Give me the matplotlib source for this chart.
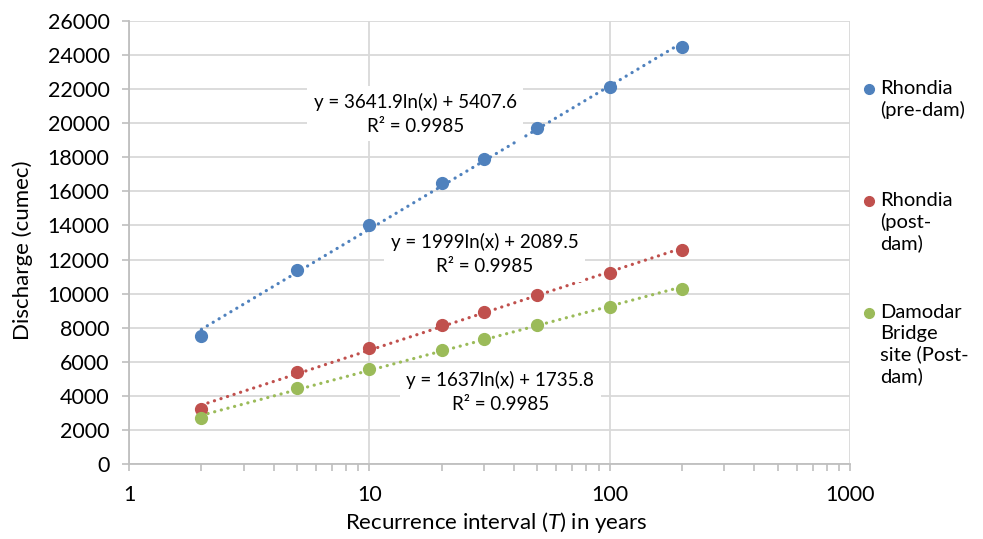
import numpy as np
import matplotlib
matplotlib.use("Agg")
import matplotlib.pyplot as plt
from matplotlib.lines import Line2D
from matplotlib.ticker import FuncFormatter, NullFormatter, LogLocator, MultipleLocator

plt.rcParams['font.family'] = ['Lato', 'DejaVu Sans']
plt.rcParams['mathtext.fontset'] = 'custom'
plt.rcParams['mathtext.it'] = 'Lato:italic'
plt.rcParams['mathtext.rm'] = 'Lato'

# Données
T = [2, 5, 10, 20, 30, 50, 100, 200]
pre_dam = [7500, 11400, 14000, 16500, 17900, 19700, 22100, 24500]
post_dam = [3230, 5400, 6800, 8150, 8920, 9920, 11230, 12560]
damodar = [2680, 4440, 5580, 6700, 7340, 8150, 9230, 10300]

names = ["Rhondia\n(pre-dam)", "Rhondia\n(post-\ndam)", "Damodar\nBridge\nsite (Post-\ndam)"]
colors = ["#4f81bd", "#c0504d", "#9bbb59"]
equations = ["y = 3641.9ln(x) + 5407.6\nR² = 0.9985",
             "y = 1999ln(x) + 2089.5\nR² = 0.9985",
             "y = 1637ln(x) + 1735.8\nR² = 0.9985"]
eq_pos = [(0.397, 0.791), (0.493, 0.474), (0.515, 0.1625)]

fig = plt.figure(figsize=(9.83, 5.39), dpi=100)
ax = fig.add_axes([129/983, 1 - 464/539, 721/983, 443/539])

x = np.array(T, dtype=float)
xs = np.geomspace(2, 200, 50)
for vals, col in zip([pre_dam, post_dam, damodar], colors):
    # courbe de tendance logarithmique
    a, b = np.polyfit(np.log(x), np.array(vals, dtype=float), 1)
    ax.plot(xs, a * np.log(xs) + b, color=col, lw=2.3, linestyle=(0, (0.05, 2.1)),
            dash_capstyle='round', zorder=3)
    ax.plot(x, vals, 'o', color=col, ms=8.5, zorder=4)

for txt, (px, py) in zip(equations, eq_pos):
    ax.text(px, py, txt, transform=ax.transAxes, ha='center', va='center', ma='center',
            fontsize=13.5, linespacing=1.5, zorder=5,
            bbox=dict(boxstyle='square,pad=0.35', fc='white', ec='none'))

ax.set_xscale('log')
ax.set_xlim(1, 1000)
ax.set_ylim(0, 26000)
ax.yaxis.set_major_locator(MultipleLocator(2000))
ax.xaxis.set_major_locator(LogLocator(base=10))
ax.xaxis.set_minor_locator(LogLocator(base=10, subs=np.arange(2, 10)))
ax.xaxis.set_major_formatter(FuncFormatter(lambda v, p: f"{v:g}"))
ax.xaxis.set_minor_formatter(NullFormatter())
ax.yaxis.set_major_formatter(FuncFormatter(lambda v, p: f"{v:.0f}"))

ax.grid(True, which='major', color='#d9d9d9', lw=1.3, zorder=0)
ax.set_axisbelow(True)
for s in ['top', 'right']:
    ax.spines[s].set_visible(False)
for s in ['left', 'bottom']:
    ax.spines[s].set_color('#bfbfbf')
    ax.spines[s].set_linewidth(1.3)
ax.tick_params(which='both', direction='out', color='#bfbfbf', width=1.2, labelsize=15.5,
               labelcolor='#000000')
ax.tick_params(axis='y', length=5, pad=9)
ax.tick_params(axis='x', which='major', length=5, pad=10)
ax.tick_params(axis='x', which='minor', length=5)

ax.set_ylabel("Discharge (cumec)", fontsize=16, va='center')
ax.yaxis.set_label_coords(-0.148, 0.483)
ax.set_xlabel("Recurrence interval ($\\it{T}$) in years", fontsize=16, va='center')
ax.xaxis.set_label_coords(0.510, -0.131)

# Légende
leg_y = [89, 201, 313]
for name, col, ly in zip(names, colors, leg_y):
    fig.add_artist(Line2D([869/983], [1 - ly/539], transform=fig.transFigure,
                          marker='o', ms=7, color=col, ls='none'))
    fig.text(880/983, 1 - (ly - 9)/539, name, ha='left', va='top', fontsize=14.5,
             linespacing=1.25)

fig.savefig("out.png", dpi=100)
